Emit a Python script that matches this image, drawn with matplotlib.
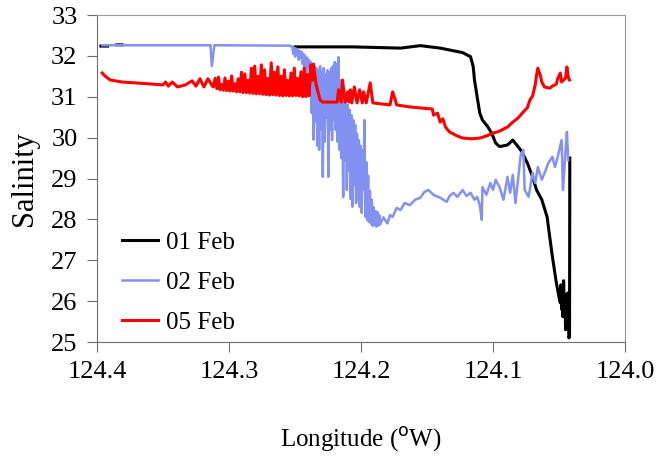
import numpy as np
import matplotlib
matplotlib.use("Agg")
import matplotlib.pyplot as plt

# 01 Feb (NaN = no data)
lon_01 = [124.397, 124.392, np.nan, 124.385, 124.381, np.nan,
          124.250, 124.206, 124.170, 124.155, 124.140, 124.123, 124.117,
          124.115, 124.114, 124.112, 124.110, 124.108, 124.104, 124.101,
          124.098, 124.095, 124.089, 124.085, 124.081, 124.078, 124.074,
          124.070, 124.067, 124.063, 124.059, 124.057, 124.055, 124.052,
          124.050, 124.049, 124.0485, 124.048, 124.0475, 124.047, 124.0465,
          124.046, 124.0455, 124.045, 124.0448, 124.044, 124.0435,
          124.043, 124.0425, 124.042, 124.0418]
sal_01 = [32.24, 32.24, np.nan, 32.27, 32.27, np.nan,
          32.22, 32.22, 32.19, 32.25, 32.19, 32.08, 31.98,
          31.74, 31.41, 31.00, 30.60, 30.43, 30.27, 30.11,
          29.87, 29.78, 29.82, 29.94, 29.78, 29.65, 29.38,
          29.04, 28.72, 28.48, 28.06, 27.57, 27.09, 26.45,
          26.10, 25.96, 26.40, 25.80, 26.28, 25.62, 26.50,
          25.90, 26.16, 25.30, 26.03, 25.45, 26.20,
          25.60, 25.10, 25.15, 29.50]

# 02 Feb
lon_02 = [124.396, 124.314, 124.313, 124.311, 124.254,
          124.2520, 124.2513, 124.2506, 124.2499, 124.2492, 124.2485,
          124.2478, 124.2471, 124.2464, 124.2457, 124.2450, 124.2443,
          124.2436, 124.2429, 124.2422, 124.2415, 124.2408, 124.2401,
          124.2394, 124.2387, 124.2380, 124.2373, 124.2366, 124.2359,
          124.2352, 124.2345, 124.2338, 124.2331, 124.2324, 124.2317,
          124.2310, 124.2303, 124.2296, 124.2289, 124.2282, 124.2275,
          124.2268, 124.2261, 124.2254, 124.2247, 124.2240, 124.2233,
          124.2226, 124.2219, 124.2212, 124.2205, 124.2198, 124.2191,
          124.2184, 124.2177, 124.2170, 124.2163, 124.2156, 124.2149,
          124.2142, 124.2135, 124.2128, 124.2121, 124.2114, 124.2107,
          124.2100, 124.2093, 124.2086, 124.2079, 124.2072, 124.2065,
          124.2058, 124.2051, 124.2044, 124.2037, 124.2030, 124.2023,
          124.2016, 124.2009, 124.2002, 124.1995, 124.1988, 124.1981,
          124.1974, 124.1967, 124.1960, 124.1953, 124.1946, 124.1939,
          124.1932, 124.1925, 124.1918, 124.1911, 124.1904, 124.1897,
          124.1890, 124.1883, 124.1876, 124.1869, 124.1862, 124.1855,
          124.183, 124.180, 124.178,
          124.176, 124.173, 124.170, 124.167, 124.163, 124.159, 124.155,
          124.152, 124.149, 124.145, 124.140, 124.135, 124.133, 124.130,
          124.127, 124.123, 124.120, 124.117, 124.114, 124.112, 124.110,
          124.1085, 124.108, 124.105, 124.102, 124.100, 124.098, 124.095,
          124.092, 124.089, 124.087, 124.085, 124.083, 124.081, 124.079,
          124.077, 124.076, 124.073, 124.070, 124.068, 124.066, 124.063,
          124.060, 124.058, 124.055, 124.053, 124.051, 124.048, 124.047,
          124.045, 124.044, 124.043]
sal_02 = [32.26, 32.26, 31.75, 32.26, 32.25,
          32.22, 32.05, 32.20, 31.98, 32.18, 32.02,
          32.15, 31.90, 32.12, 31.95, 32.10, 31.80,
          32.05, 31.70, 32.00, 31.60, 31.95, 31.75,
          31.90, 31.40, 31.85, 30.60, 31.80, 29.95,
          31.75, 30.40, 31.70, 29.80, 31.65, 29.70,
          31.75, 30.20, 31.60, 29.04, 31.70, 29.90,
          31.55, 30.50, 31.65, 29.04, 31.60, 30.20,
          31.70, 29.94, 31.75, 30.43, 31.85, 30.19,
          31.80, 29.90, 31.97, 29.70, 31.40, 29.50,
          31.20, 28.55, 31.04, 29.45, 30.92, 28.72,
          30.80, 29.20, 30.68, 28.50, 30.55, 28.31,
          30.43, 28.84, 30.31, 28.40, 30.10, 28.48,
          29.94, 28.30, 29.80, 28.16, 29.70, 28.72,
          30.43, 28.06, 29.40, 27.98, 29.07, 27.94,
          28.70, 27.90, 28.48, 27.84, 28.30, 27.86,
          28.20, 27.82, 28.18, 27.85, 28.11, 27.87,
          28.05, 27.90, 28.11,
          28.06, 28.28, 28.23, 28.40, 28.35, 28.48, 28.53,
          28.67, 28.72, 28.60, 28.53, 28.43, 28.57, 28.65,
          28.55, 28.72, 28.57, 28.65, 28.48, 28.55, 28.35,
          27.99, 28.79, 28.60, 28.89, 28.72, 28.97, 28.79,
          28.48, 29.04, 28.65, 29.09, 28.40, 28.97, 29.58,
          29.70, 28.72, 28.55, 29.14, 28.89, 29.28, 28.97,
          29.21, 29.38, 29.53, 29.28, 29.53, 29.94, 28.72,
          29.70, 30.14, 29.45]

# 05 Feb
lon_05 = [124.396, 124.394, 124.390, 124.381, 124.371, 124.358, 124.350,
          124.348, 124.346, 124.343, 124.339, 124.333, 124.328, 124.325,
          124.322, 124.319, 124.316,
          124.3120, 124.3105, 124.3092, 124.3080, 124.3068, 124.3055,
          124.3043, 124.3030, 124.3018, 124.3005, 124.2993, 124.2980,
          124.2968, 124.2955, 124.2943, 124.2930, 124.2918, 124.2905,
          124.2893, 124.2880, 124.2868, 124.2855, 124.2843, 124.2830,
          124.2818, 124.2805, 124.2793, 124.2780, 124.2768, 124.2755,
          124.2743, 124.2730, 124.2718, 124.2705, 124.2693, 124.2680,
          124.2668, 124.2655, 124.2643, 124.2630, 124.2618, 124.2605,
          124.2593, 124.2580, 124.2568, 124.2555, 124.2543, 124.2530,
          124.2518, 124.2505, 124.2493, 124.2480, 124.2468, 124.2455,
          124.2443, 124.2430, 124.2418, 124.2405, 124.2393, 124.2380,
          124.2368, 124.2360, 124.2340,
          124.233, 124.231, 124.229, 124.218, 124.217, 124.215,
          124.214, 124.212, 124.210, 124.209, 124.208, 124.207, 124.205,
          124.203, 124.201, 124.199, 124.198, 124.196, 124.193, 124.191,
          124.178, 124.176, 124.174, 124.173, 124.163, 124.146, 124.145,
          124.142, 124.140, 124.138, 124.136, 124.133, 124.127, 124.123,
          124.116, 124.110, 124.105, 124.100, 124.095, 124.089, 124.085,
          124.081, 124.077, 124.074, 124.072, 124.070, 124.068, 124.067,
          124.066, 124.064, 124.063, 124.061, 124.057, 124.055, 124.052,
          124.051, 124.049, 124.048, 124.045, 124.044, 124.043, 124.042]
sal_05 = [31.58, 31.51, 31.41, 31.36, 31.34, 31.31, 31.29,
          31.36, 31.26, 31.36, 31.24, 31.29, 31.39, 31.26,
          31.44, 31.24, 31.44,
          31.24, 31.45, 31.20, 31.48, 31.17, 31.30,
          31.16, 31.46, 31.15, 31.38, 31.14, 31.51,
          31.14, 31.32, 31.12, 31.44, 31.12, 31.60,
          31.10, 31.56, 31.10, 31.40, 31.09, 31.70,
          31.08, 31.75, 31.07, 31.50, 31.07, 31.78,
          31.06, 31.66, 31.05, 31.45, 31.04, 31.83,
          31.05, 31.60, 31.04, 31.73, 31.03, 31.50,
          31.02, 31.66, 31.03, 31.40, 31.02, 31.58,
          31.02, 31.70, 31.03, 31.45, 31.02, 31.61,
          31.00, 31.70, 31.00, 31.55, 31.02, 31.78,
          31.40, 31.80, 31.30,
          31.17, 30.92, 30.87, 30.87, 31.17, 30.87,
          31.41, 30.87, 31.12, 30.87, 31.17, 30.85, 31.24,
          30.85, 31.17, 30.85, 31.12, 30.85, 31.34, 30.85,
          30.80, 31.12, 30.92, 30.80, 30.75, 30.70, 30.55,
          30.60, 30.38, 30.46, 30.26, 30.14, 30.04, 29.99,
          29.97, 29.99, 30.04, 30.11, 30.16, 30.26, 30.38,
          30.48, 30.63, 30.73, 30.92, 31.02, 31.29, 31.53,
          31.70, 31.51, 31.36, 31.24, 31.21, 31.26, 31.31,
          31.44, 31.58, 31.36, 31.46, 31.73, 31.48, 31.41]

xticks = [124.4, 124.3, 124.2, 124.1, 124.0]
yticks = [25, 26, 27, 28, 29, 30, 31, 32, 33]

plt.rcParams['font.family'] = ['Liberation Serif', 'DejaVu Serif']

fig = plt.figure(figsize=(6.67, 4.63), dpi=100)
ax = fig.add_axes([0.1454, 0.2613, 0.7916, 0.7063])

ax.plot(lon_01, sal_01, color='black', lw=2.2, label='01 Feb')
ax.plot(lon_02, sal_02, color='#8391f2', lw=1.8, label='02 Feb')
ax.plot(lon_05, sal_05, color='#ff0000', lw=2.2, label='05 Feb')

ax.set_xlim(124.4, 124.0)
ax.set_ylim(25, 33)
ax.set_xticks(xticks)
ax.set_xticklabels([f"{v:.1f}" for v in xticks])
ax.set_yticks(yticks)

for side in ['left', 'bottom']:
    ax.spines[side].set_color('#6e6e6e')
for side in ['top', 'right']:
    ax.spines[side].set_color('#9a9a9a')
ax.tick_params(direction='out', length=7, color='#6e6e6e', labelsize=19, pad=7)

ax.set_ylabel('Salinity', fontsize=22)
ax.yaxis.set_label_coords(-0.11, 0.5)
ax.set_xlabel('Longitude ($^{\\mathrm{o}}$W)', fontsize=18)
ax.xaxis.set_label_coords(0.5, -0.255)

ax.legend(loc='lower left', bbox_to_anchor=(0.019, -0.02), frameon=False,
          fontsize=18, handlelength=1.45, handletextpad=0.3,
          labelspacing=0.69, borderaxespad=0.2)

fig.savefig('out.png', dpi=100)
